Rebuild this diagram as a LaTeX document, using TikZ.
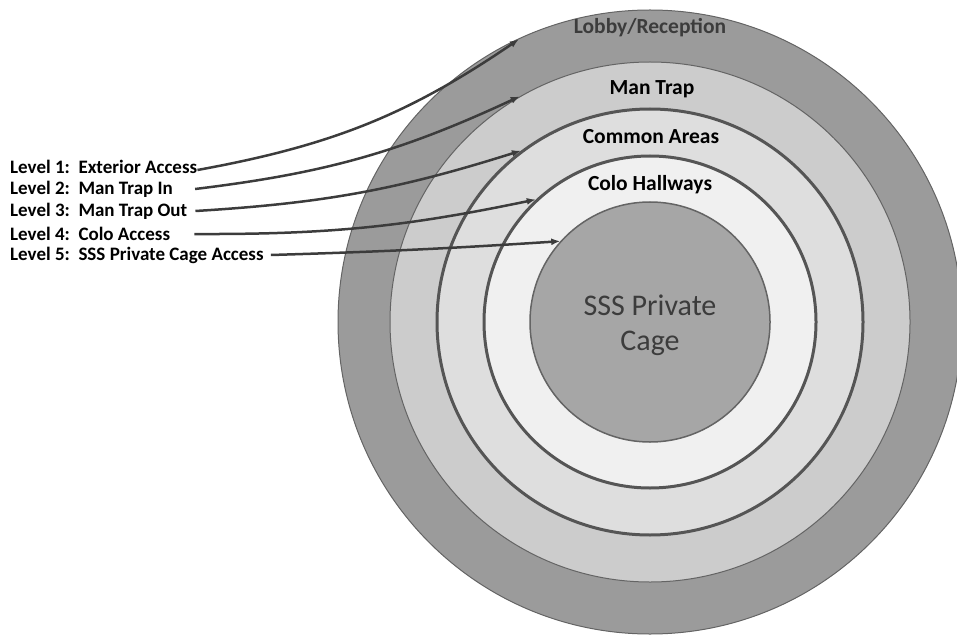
\documentclass[tikz,border=0pt]{standalone}
\usepackage{fontspec}
\setmainfont{Carlito}
\usetikzlibrary{arrows.meta}

\definecolor{lobbygray}{RGB}{155,155,155}
\definecolor{trapgray}{RGB}{204,204,204}
\definecolor{commongray}{RGB}{222,222,222}
\definecolor{hallgray}{RGB}{240,240,240}
\definecolor{cagegray}{RGB}{166,166,166}
\definecolor{wallgray}{RGB}{85,85,85}
\definecolor{edgegray}{RGB}{100,100,100}
\definecolor{inkgray}{RGB}{60,60,60}

\begin{document}
\begin{tikzpicture}[
            x=1pt, y=-1pt,
            zone/.style = {
                circle, inner sep=0pt, draw=edgegray, line width=1pt
            },
            wall/.style = {
                circle, inner sep=0pt, draw=wallgray, line width=3pt
            },
            zonename/.style = {
                font=\bfseries\fontsize{21.5}{24}\selectfont
            },
            level/.style = {
                anchor=west, inner sep=0pt,
                font=\bfseries\fontsize{19}{21}\selectfont
            },
            access/.style = {
                line width=2.5pt, draw=inkgray,
                -{Latex[length=9pt,width=7pt]}
            }
            ]
            \clip (0,0) rectangle (957,636);
            \useasboundingbox (0,0) rectangle (957,636);

            % Rings
            \node[zone, fill=lobbygray, minimum size=624pt] (lobby) at (650,322) {};
            \node[zone, fill=trapgray, minimum size=520pt] (mantrap) at (650,322) {};
            \node[wall, fill=commongray, minimum size=426pt] (common) at (650,322) {};
            \node[wall, fill=hallgray, minimum size=332pt] (colo) at (650,322) {};
            \node[zone, fill=cagegray, line width=1.5pt, minimum size=240pt] (cage) at (650,322) {};

            % Ring names
            \node[zonename, text=inkgray] at (650,28) {Lobby/Reception};
            \node[zonename] at (652,89) {Man Trap};
            \node[zonename] at (651,137) {Common Areas};
            \node[zonename] at (650,185) {Colo Hallways};
            \node[align=center, text=inkgray, font=\fontsize{30}{35}\selectfont] at (650,325) {SSS Private\\Cage};

            % Levels
            \node[level] (lvl1) at (10,167) {Level 1:\ \ Exterior Access};
            \node[level] (lvl2) at (10,189) {Level 2:\ \ Man Trap In};
            \node[level] (lvl3) at (10,211) {Level 3:\ \ Man Trap Out};
            \node[level] (lvl4) at (10,234) {Level 4:\ \ Colo Access};
            \node[level] (lvl5) at (10,255) {Level 5:\ \ SSS Private Cage Access};

            \draw[access, shorten >=5pt] ([yshift=-3pt]lvl1.east) to[bend right=12] (lobby.114);
            \draw[access] ([xshift=22pt]lvl2.east) to[bend right=9] (mantrap.120);
            \draw[access] ([xshift=8pt]lvl3.east) to[bend right=7] (common.127);
            \draw[access] ([xshift=24pt]lvl4.east) to[bend right=6] (colo.133);
            \draw[access] ([xshift=7pt]lvl5.east) to[bend right=1] (cage.138);
        \end{tikzpicture}
\end{document}
